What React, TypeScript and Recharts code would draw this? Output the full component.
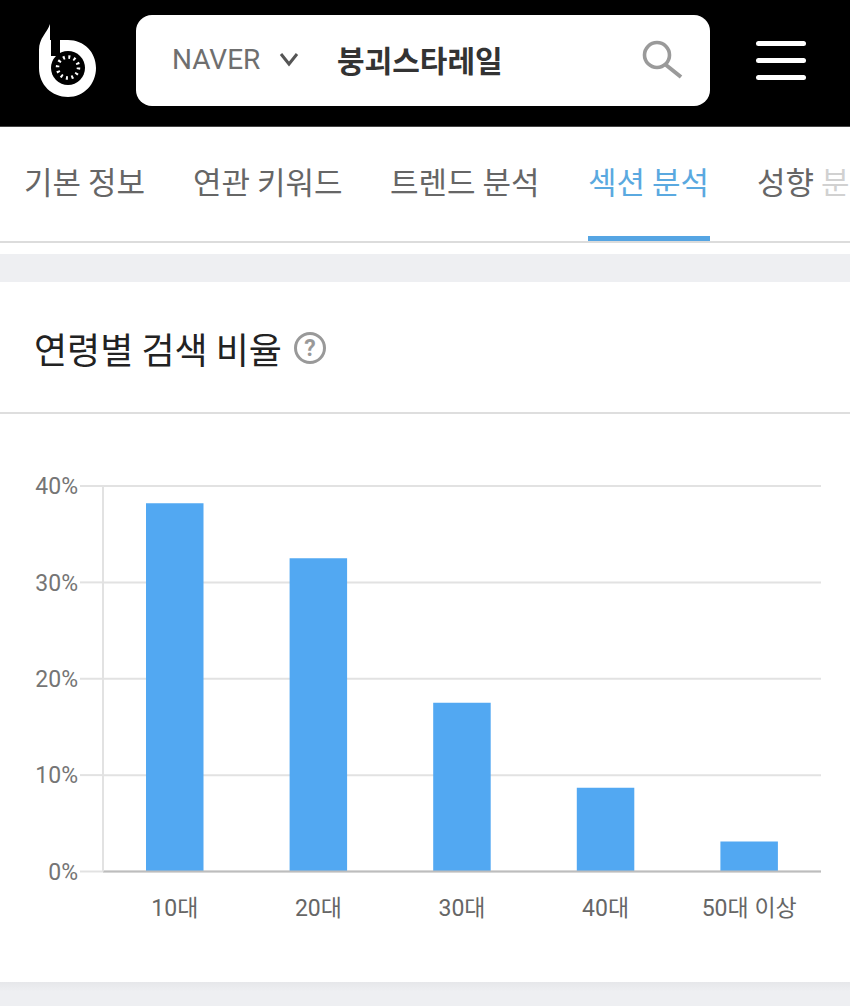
import { BarChart, Bar, XAxis, YAxis, CartesianGrid, ReferenceLine } from 'recharts'

const ages = ['10대', '20대', '30대', '40대', '50대 이상']
const ratios = [38.2, 32.5, 17.5, 8.7, 3.1]
const yTicks = [0, 10, 20, 30, 40]
const tabs = ['기본 정보', '연관 키워드', '트렌드 분석', '섹션 분석', '성향 분석']
const tabLefts = [24, 193, 390, 588, 757]

const chartData = ages.map((age, i) => ({ age, ratio: ratios[i] }))
const cjk = '"Noto Sans CJK KR", sans-serif'

const abs = (left: number, top: number, width: number, height: number, background: string) => ({
  position: 'absolute' as const, left, top, width, height, background
})

function Header() {
  return (
    <>
      <div style={abs(0, 0, 850, 126, '#000')} />
      <div style={abs(0, 126, 850, 1, '#444')} />
      <svg style={{ position: 'absolute', left: 30, top: 18 }} width="76" height="86" viewBox="30 18 76 86">
        <path d="M50 24 C47 33 39 38 39 50 L39 68 C39 85 52 97 68 97 C84 97 96 84 96 68 C96 52 84 40 68 40 L50 40 Z" fill="#fff" />
        <rect x="51" y="22" width="9" height="34" fill="#000" />
        <circle cx="68" cy="68" r="17" fill="#000" />
        <circle cx="68" cy="67.5" r="10.5" fill="none" stroke="#fff" strokeWidth="3.5" strokeDasharray="2 3.5" />
      </svg>
      <div style={{ ...abs(136, 15, 574, 91, '#fff'), borderRadius: 16 }} />
      <div style={{ position: 'absolute', left: 172, top: 41, fontFamily: 'Roboto, sans-serif', fontSize: 28, lineHeight: '38px', color: '#6f6f6f' }}>NAVER</div>
      <svg style={{ position: 'absolute', left: 276, top: 50 }} width="26" height="20" viewBox="0 0 26 20">
        <path d="M5 4 L13 14 L21 4" fill="none" stroke="#555" strokeWidth="3" />
      </svg>
      <div style={{ position: 'absolute', left: 337, top: 37, fontFamily: cjk, fontWeight: 700, fontSize: 30, lineHeight: '44px', color: '#333', whiteSpace: 'nowrap' }}>붕괴스타레일</div>
      <svg style={{ position: 'absolute', left: 638, top: 36 }} width="48" height="46" viewBox="0 0 48 46">
        <circle cx="19" cy="19" r="12.5" fill="none" stroke="#9a9a9a" strokeWidth="3.6" />
        <line x1="28" y1="29" x2="43" y2="41" stroke="#9a9a9a" strokeWidth="4" />
      </svg>
      <div style={{ ...abs(756, 41, 50, 5, '#fff'), borderRadius: 3 }} />
      <div style={{ ...abs(756, 58, 50, 5, '#fff'), borderRadius: 3 }} />
      <div style={{ ...abs(756, 75, 50, 5, '#fff'), borderRadius: 3 }} />
    </>
  )
}

function Tabs() {
  return (
    <>
      {tabs.map((tab, i) => (
        <div key={tab} style={{
          position: 'absolute', left: tabLefts[i], top: 159, fontFamily: cjk, fontSize: 31,
          lineHeight: '44px', whiteSpace: 'nowrap', color: i === 3 ? '#5aa9e0' : '#666'
        }}>{tab}</div>
      ))}
      <div style={abs(820, 150, 30, 80, 'rgba(255,255,255,0.7)')} />
      <div style={abs(0, 241, 850, 2, '#dcdcdc')} />
      <div style={abs(588, 236, 122, 5, '#55a5e3')} />
      <div style={abs(0, 254, 850, 28, '#eeeff2')} />
    </>
  )
}

function Title() {
  return (
    <>
      <div style={{ position: 'absolute', left: 34, top: 323, fontFamily: cjk, fontSize: 36, lineHeight: '50px', color: '#222', whiteSpace: 'nowrap' }}>연령별 검색 비율</div>
      <svg style={{ position: 'absolute', left: 293, top: 331 }} width="34" height="34" viewBox="0 0 34 34">
        <circle cx="17" cy="17" r="14.5" fill="none" stroke="#999" strokeWidth="3" />
        <text x="17" y="25" textAnchor="middle" fontFamily="Roboto, sans-serif" fontWeight="700" fontSize="23" fill="#999">?</text>
      </svg>
      <div style={abs(0, 412, 850, 2, '#dedede')} />
    </>
  )
}

export default function App() {
  return (
    <div style={{ position: 'absolute', left: 0, top: 0, width: 850, height: 1006, background: '#fff', overflow: 'hidden' }}>
      <style>{'body{margin:0}'}</style>
      <Header />
      <Tabs />
      <Title />
      <div style={{ position: 'absolute', left: 0, top: 0 }}>
        <BarChart
          width={850}
          height={1006}
          data={chartData}
          margin={{ top: 486, right: 29, left: 0, bottom: 0 }}
        >
          <CartesianGrid vertical={false} stroke="#e2e2e2" strokeWidth={2} />
          <XAxis
            dataKey="age"
            height={134.5}
            interval={0}
            tickLine={false}
            axisLine={false}
            tickMargin={22}
            tick={{ fontSize: 23, fill: '#666', fontFamily: 'Roboto, "Noto Sans CJK KR", sans-serif' }}
          />
          <YAxis
            width={103}
            domain={[0, 40]}
            ticks={yTicks}
            tickFormatter={(v) => `${v}%`}
            tickSize={23}
            tickMargin={2}
            axisLine={{ stroke: '#e2e2e2', strokeWidth: 2 }}
            tickLine={{ stroke: '#e2e2e2', strokeWidth: 2 }}
            tick={{ fontSize: 23, fill: '#757575', fontFamily: 'Roboto, sans-serif' }}
          />
          <Bar dataKey="ratio" fill="#52a8f2" barSize={57.5} isAnimationActive={false} />
          <ReferenceLine y={0} stroke="#bdbdbd" strokeWidth={2} />
        </BarChart>
      </div>
      <div style={{ ...abs(0, 982, 850, 24, '#eeeff2'), background: 'linear-gradient(#e6e7ea, #eeeff2 40%)' }} />
    </div>
  )
}
